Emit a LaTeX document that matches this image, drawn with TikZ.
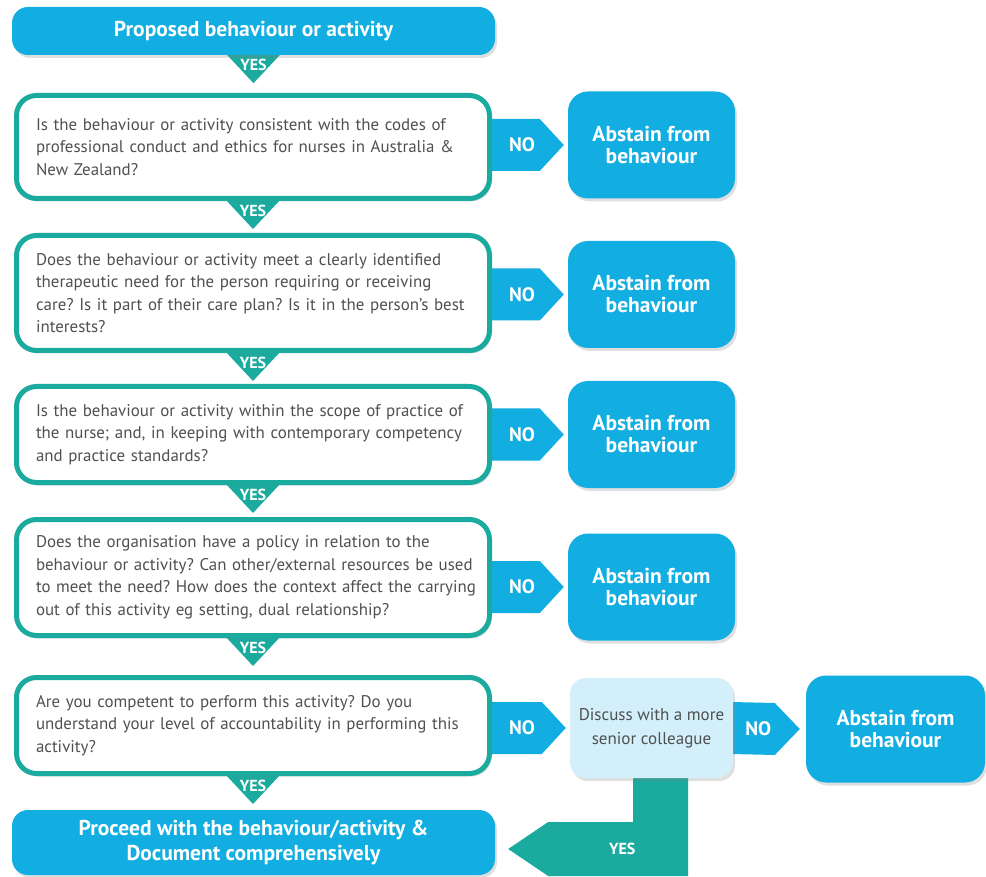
\documentclass[tikz,border=0pt]{standalone}
\usepackage{fontspec}
\setmainfont{PT Sans}
\frenchspacing
\usetikzlibrary{shadows,calc,backgrounds}
\definecolor{cy}{HTML}{12AEE2}
\definecolor{tl}{HTML}{1AAA9E}
\definecolor{lb}{HTML}{D3EFFA}
\definecolor{tx}{HTML}{505050}
\newcommand{\qline}[1]{\mbox{#1}}
\tikzset{
  shad/.style={drop shadow={opacity=0.25,shadow xshift=2pt,shadow yshift=-3pt}},
  headbox/.style={fill=cy, rounded corners=16, text=white, font=\bfseries\fontsize{21.5}{25}\selectfont, align=center, inner sep=0, minimum width=483, shad},
  qbox/.style={draw=tl, line width=5, fill=white, rounded corners=20, text=tx, font=\fontsize{16.9}{22.5}\selectfont, align=left, text width=434pt, inner xsep=0pt, inner ysep=0pt, minimum width=473, shad},
  abox/.style={fill=cy, rounded corners=20, text=white, font=\bfseries\fontsize{21.5}{22}\selectfont, align=center, inner sep=0, minimum width=167, minimum height=107, shad},
  dbox/.style={fill=lb, rounded corners=16, text=tx, font=\fontsize{17}{24}\selectfont, align=center, inner sep=0, minimum width=163, minimum height=100, shad},
  lab/.style={text=white, font=\bfseries\fontsize{19.5}{20}\selectfont, inner sep=0},
  ylab/.style={text=white, font=\bfseries\fontsize{16}{16}\selectfont, inner sep=0},
}
\begin{document}
\begin{tikzpicture}[x=1pt,y=-1pt]
\useasboundingbox (0,0) rectangle (986,877);

\node[headbox, minimum height=48] (top) at (253.5,31) {Proposed behaviour or activity};

\node[qbox, minimum height=103] (q1) at (253,147) {\qline{Is the behaviour or activity consistent with the codes of}\\\qline{professional conduct and ethics for nurses in Australia \&}\\\qline{New Zealand?}};
\node[qbox, minimum height=115] (q2) at (253,293) {\qline{Does the behaviour or activity meet a clearly identified}\\\qline{therapeutic need for the person requiring or receiving}\\\qline{care? Is it part of their care plan? Is it in the person’s best}\\\qline{interests?}};
\node[qbox, minimum height=96] (q3) at (253,434.5) {\qline{Is the behaviour or activity within the scope of practice of}\\\qline{the nurse; and, in keeping with contemporary competency}\\\qline{and practice standards?}};
\node[qbox, minimum height=116] (q4) at (253,577.5) {\qline{Does the organisation have a policy in relation to the}\\\qline{behaviour or activity? Can other/external resources be used}\\\qline{to meet the need? How does the context affect the carrying}\\\qline{out of this activity eg setting, dual relationship?}};
\node[qbox, minimum height=96] (q5) at (253,725.5) {\qline{Are you competent to perform this activity? Do you}\\\qline{understand your level of accountability in performing this}\\\qline{activity?}};

\node[headbox, minimum height=65] (bot) at (253.5,842.5) {Proceed with the behaviour/activity \&\\Document comprehensively};

\node[abox] (a1) at (651.5,145) {Abstain from\\behaviour};
\node[abox] (a2) at (651.5,294.5) {Abstain from\\behaviour};
\node[abox] (a3) at (651.5,434.5) {Abstain from\\behaviour};
\node[abox] (a4) at (651.5,587) {Abstain from\\behaviour};
\node[dbox] (disc) at (651.5,728) {Discuss with a more\\senior colleague};
\node[abox, minimum width=179] (a5) at (895.5,729) {Abstain from\\behaviour};

\begin{scope}[on background layer]
\fill[white] (0,0) rectangle (986,877);
% YES triangles
\foreach \u in {top, q1, q2, q3, q4, q5}{
  \fill[tl] ($(\u.south)+(-28,-2)$) -- ($(\u.south)+(28,-2)$) -- ($(\u.south)+(0,28)$) -- cycle;
}
% NO arrows
\foreach \q/\a in {q1/a1, q2/a2, q3/a3, q4/a4, q5/disc}{
  \fill[cy] ($(\q.east |- \a.west)+(-4,-26)$) -- ($(\a.west)+(-28,-26)$) -- ($(\a.west)+(-4,0)$) -- ($(\a.west)+(-28,26)$) -- ($(\q.east |- \a.west)+(-4,26)$) -- cycle;
}
\fill[cy] ($(disc.east)+(-2,-26)$) -- ($(a5.west)+(-31,-26)$) -- ($(a5.west)+(-6,0)$) -- ($(a5.west)+(-31,26)$) -- ($(disc.east)+(-2,26)$) -- cycle;
% YES L-arrow
\fill[tl] ($(disc.south)+(-18.5,-4)$) -- ($(disc.south)+(36.5,-4)$) -- ($(bot.east)+(193,33.5)$) -- ($(bot.east)+(53,33.5)$) -- ($(bot.east)+(13,6.5)$) -- ($(bot.east)+(53,-20.5)$) -- ($(disc.south)+(-18.5,44)$) -- cycle;
\end{scope}

\foreach \u in {top, q1, q2, q3, q4, q5}{
  \node[ylab] at ($(\u.south)+(0,10)$) {YES};
}
\node[ylab] at ($(bot.east)+(127,6.5)$) {YES};
\foreach \q/\a in {q1/a1, q2/a2, q3/a3, q4/a4, q5/disc}{
  \node[lab] at ($(\q.east |- \a.west)+(30,0)$) {NO};
}
\node[lab] at ($(disc.east)+(25,1)$) {NO};
\end{tikzpicture}
\end{document}
